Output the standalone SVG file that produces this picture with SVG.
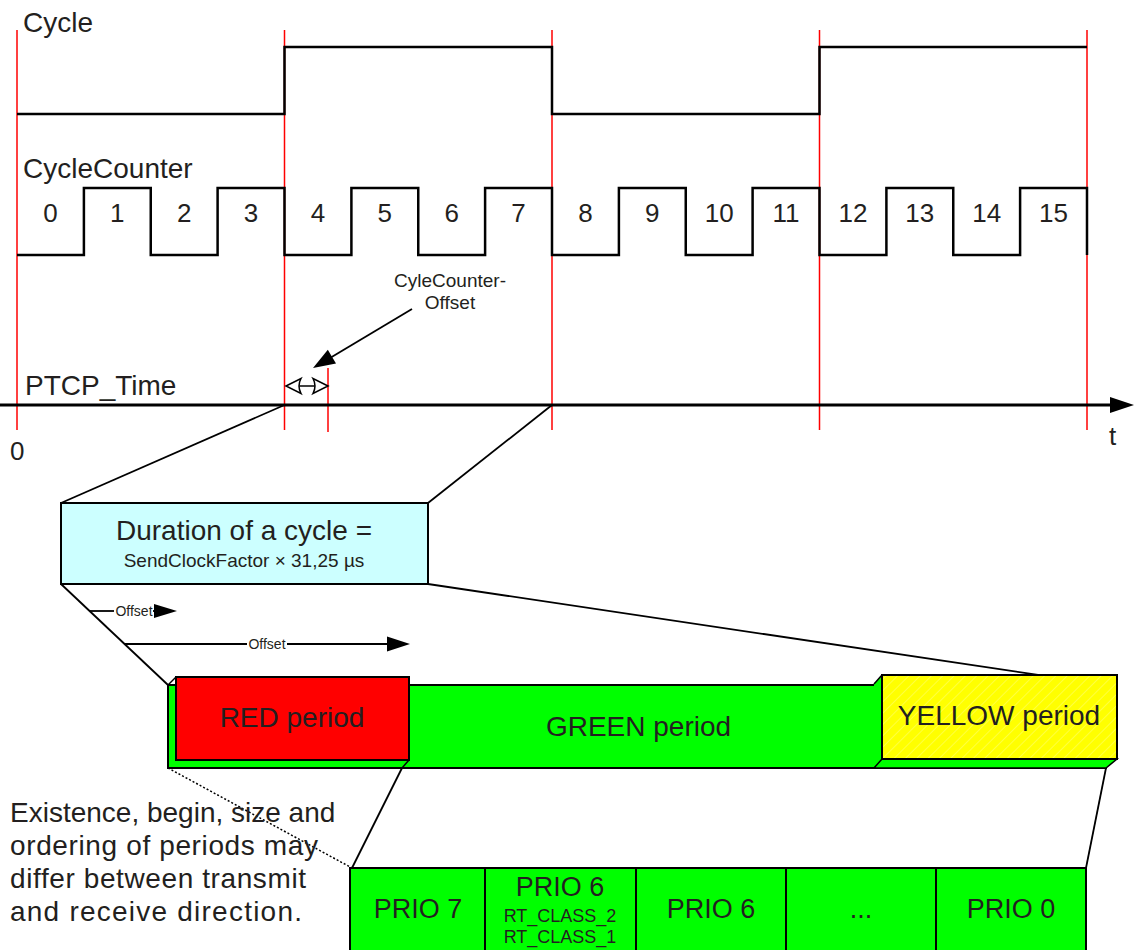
<svg xmlns="http://www.w3.org/2000/svg" width="1134" height="950" viewBox="0 0 1134 950">
<defs>
<style>
.t{font-family:'Liberation Sans',Arial,sans-serif;fill:#231f20}
.red{stroke:#ff0000;stroke-width:1.5;fill:none}
.sig{stroke:#000;stroke-width:2.5;fill:none}
.ln{stroke:#000;stroke-width:1.8;fill:none}
.box{stroke:#000;stroke-width:2}
.prio{fill:#00ff00;stroke:#000;stroke-width:2}
</style>
<pattern id="hatch" width="8" height="8" patternUnits="userSpaceOnUse" patternTransform="rotate(45)">
<line x1="0" y1="0" x2="0" y2="8" stroke="#fff" stroke-opacity="0.5" stroke-width="1"/>
</pattern>
</defs>
<rect width="1134" height="950" fill="#fff"/>

<g id="red-markers" class="red">
<line x1="17" y1="30" x2="17" y2="430"/>
<line x1="284.5" y1="30" x2="284.5" y2="430"/>
<line x1="552" y1="30" x2="552" y2="430"/>
<line x1="819.5" y1="30" x2="819.5" y2="430"/>
<line x1="1087" y1="30" x2="1087" y2="430"/>
<line x1="328" y1="368" x2="328" y2="432"/>
</g>

<g id="cycle-signal">
<path class="sig" d="M17,114 H284.5 V47 H552 V114 H819.5 V47 H1087"/>
<text class="t" x="23" y="32" font-size="28">Cycle</text>
</g>

<g id="cyclecounter-signal">
<path class="sig" d="M17,255 H83.9 V188 H150.75 V255 H217.6 V188 H284.5 V255 H351.4 V188 H418.25 V255 H485.1 V188 H552 V255 H618.9 V188 H685.75 V255 H752.6 V188 H819.5 V255 H886.4 V188 H953.25 V255 H1020.1 V188 H1087 V255"/>
<text class="t" x="23" y="178" font-size="28">CycleCounter</text>
<g class="t" font-size="26" text-anchor="middle">
<text x="50.5" y="222">0</text>
<text x="117.3" y="222">1</text>
<text x="184.2" y="222">2</text>
<text x="251" y="222">3</text>
<text x="318" y="222">4</text>
<text x="384.8" y="222">5</text>
<text x="451.7" y="222">6</text>
<text x="518.5" y="222">7</text>
<text x="585.5" y="222">8</text>
<text x="652.3" y="222">9</text>
<text x="719.2" y="222">10</text>
<text x="786" y="222">11</text>
<text x="853" y="222">12</text>
<text x="919.8" y="222">13</text>
<text x="986.7" y="222">14</text>
<text x="1053.5" y="222">15</text>
</g>
</g>

<g id="ptcp-time-axis">
<line x1="0" y1="405" x2="1112" y2="405" stroke="#000" stroke-width="3"/>
<polygon points="1110,397 1134,405 1110,413" fill="#000"/>
<text class="t" x="25" y="395" font-size="28">PTCP_Time</text>
<text class="t" x="10" y="460" font-size="26">0</text>
<text class="t" x="1109" y="445" font-size="26">t</text>
</g>

<g id="cyclecounter-offset">
<line x1="290" y1="386" x2="324" y2="386" stroke="#000" stroke-width="1.5"/>
<path d="M286,386 L301,378.5 Q297,386 301,393.5 Z" fill="#fff" stroke="#000" stroke-width="1.5"/>
<path d="M328,386 L313,378.5 Q317,386 313,393.5 Z" fill="#fff" stroke="#000" stroke-width="1.5"/>
<text class="t" x="450" y="287" font-size="19" text-anchor="middle">CyleCounter-</text>
<text class="t" x="450" y="309" font-size="19" text-anchor="middle">Offset</text>
</g>

<g id="connectors">
<line class="ln" x1="412" y1="309" x2="330" y2="358"/>
<polygon points="313,368 327.8,349.8 336,363.6" fill="#000"/>
<line class="ln" x1="284.5" y1="405" x2="61" y2="503"/>
<line class="ln" x1="552" y1="405" x2="428" y2="503"/>
<line class="ln" x1="61" y1="584" x2="168" y2="685"/>
<line class="ln" x1="428" y1="584" x2="1106" y2="685"/>
<line class="ln" x1="90" y1="611" x2="114" y2="611"/>
<line class="ln" x1="153" y1="611" x2="156" y2="611"/>
<polygon points="154,604 177,611 154,618" fill="#000"/>
<line class="ln" x1="124" y1="644" x2="247" y2="644"/>
<line class="ln" x1="287" y1="644" x2="390" y2="644"/>
<polygon points="387,636.5 410,644 387,651.5" fill="#000"/>
<line class="ln" x1="402" y1="768" x2="352" y2="868"/>
<line class="ln" x1="1106" y1="768" x2="1086" y2="868"/>
<line x1="168" y1="768" x2="352" y2="868" stroke="#000" stroke-width="1.5" stroke-dasharray="2,2"/>
</g>

<g id="offset-labels" class="t" font-size="14" text-anchor="middle">
<text x="134" y="616">Offset</text>
<text x="267" y="649">Offset</text>
</g>

<g id="cycle-duration">
<rect class="box" x="61" y="503" width="367" height="81" fill="#ccffff"/>
<text class="t" x="244" y="540" font-size="28" text-anchor="middle">Duration of a cycle =</text>
<text class="t" x="244" y="567" font-size="19" text-anchor="middle">SendClockFactor × 31,25 µs</text>
</g>

<g id="green-period">
<rect class="box" x="168" y="685" width="938" height="83" fill="#00ff00"/>
<text class="t" x="638.5" y="736" font-size="28" text-anchor="middle">GREEN period</text>
</g>

<g id="red-period">
<rect class="box" x="176" y="677" width="233" height="83" fill="#ff0000"/>
<line x1="176" y1="677" x2="168" y2="685" stroke="#000" stroke-width="1.5"/>
<line x1="409" y1="760" x2="402" y2="768" stroke="#000" stroke-width="1.5"/>
<text class="t" x="292" y="727" font-size="28" text-anchor="middle">RED period</text>
</g>

<g id="yellow-period">
<polygon points="874,684 882,675 882,768 874,768" fill="#00ff00"/>
<polygon points="874,768 882,759 1117,759 1106,768" fill="#00ff00" stroke="#000" stroke-width="1.5"/>
<rect class="box" x="882" y="675" width="235" height="84" fill="#ffff00"/>
<rect x="883" y="676" width="233" height="82" fill="url(#hatch)"/>
<line x1="882" y1="675" x2="874" y2="684" stroke="#000" stroke-width="1.5"/>
<text class="t" x="999" y="725" font-size="28" text-anchor="middle">YELLOW period</text>
</g>

<g id="note" class="t" font-size="28">
<text x="10" y="822">Existence, begin, size and</text>
<text x="10" y="855" textLength="308" lengthAdjust="spacing">ordering of periods may</text>
<text x="10" y="888" textLength="296" lengthAdjust="spacing">differ between transmit</text>
<text x="10" y="921" textLength="292" lengthAdjust="spacing">and receive direction.</text>
</g>

<g id="prio-7">
<rect class="prio" x="350" y="868" width="135" height="90"/>
<text class="t" x="418" y="918" font-size="27" text-anchor="middle">PRIO 7</text>
</g>
<g id="prio-6-rt">
<rect class="prio" x="485" y="868" width="151" height="90"/>
<text class="t" x="560" y="896" font-size="27" text-anchor="middle">PRIO 6</text>
<text class="t" x="560" y="922" font-size="18" text-anchor="middle">RT_CLASS_2</text>
<text class="t" x="560" y="943" font-size="18" text-anchor="middle">RT_CLASS_1</text>
</g>
<g id="prio-6">
<rect class="prio" x="636" y="868" width="150" height="90"/>
<text class="t" x="711" y="918" font-size="27" text-anchor="middle">PRIO 6</text>
</g>
<g id="prio-dots">
<rect class="prio" x="786" y="868" width="150" height="90"/>
<text class="t" x="861" y="918" font-size="27" text-anchor="middle">...</text>
</g>
<g id="prio-0">
<rect class="prio" x="936" y="868" width="150" height="90"/>
<text class="t" x="1011" y="918" font-size="27" text-anchor="middle">PRIO 0</text>
</g>
</svg>
